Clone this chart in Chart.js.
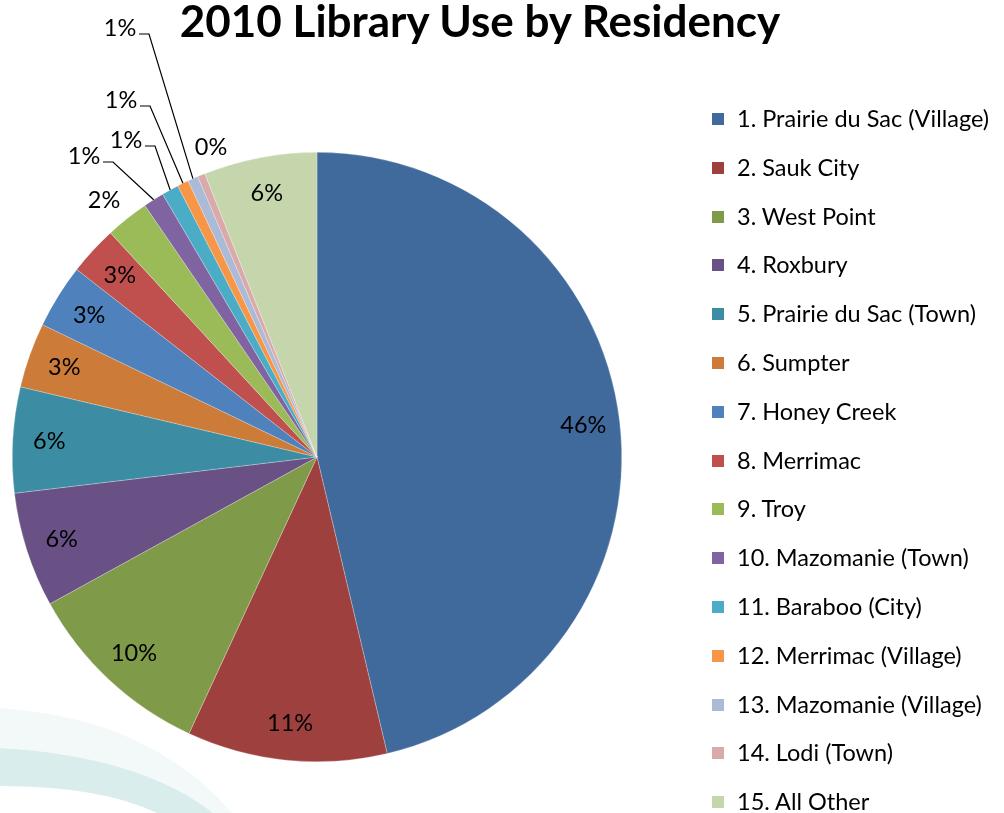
<!DOCTYPE html>
<html>
<head>
<meta charset="utf-8">
<script src="https://cdn.jsdelivr.net/npm/chart.js@4"></script>
<style>
  body { margin:0; background:#fff; font-family: Lato, sans-serif; }
  #wrap { position:relative; width:1004px; height:813px; overflow:hidden; }
  #bg { position:absolute; left:0; top:0; }
  #title { position:absolute; left:0; top:-6px; width:960px; text-align:center; font-weight:bold; font-size:44px; color:#000; }
  #pie { position:absolute; left:0; top:0; }
  #legend { position:absolute; left:712px; top:103px; margin:0; padding:0; list-style:none; }
  #legend li { height:48.8px; font-size:23.5px; line-height:30px; white-space:nowrap; }
  #legend span { display:inline-block; width:12px; height:12px; margin-right:13px; vertical-align:2px; }
</style>
</head>
<body>
<div id="wrap">
  <svg id="bg" width="1004" height="813">
    <path d="M0,708 Q150,718 232,813 L213,813 Q140,756 0,748 Z" fill="#F3F9F9"/>
    <path d="M0,748 Q140,756 213,813 L157,813 Q100,786 0,786 Z" fill="#DAEDED"/>
  </svg>
  <canvas id="pie" width="1004" height="813"></canvas>
  <div id="title">2010 Library Use by Residency</div>
  <ul id="legend"></ul>
</div>
<script>
// datos (porcentaje)
const labels = ['1. Prairie du Sac (Village)','2. Sauk City','3. West Point','4. Roxbury',
  '5. Prairie du Sac (Town)','6. Sumpter','7. Honey Creek','8. Merrimac','9. Troy',
  '10. Mazomanie (Town)','11. Baraboo (City)','12. Merrimac (Village)','13. Mazomanie (Village)',
  '14. Lodi (Town)','15. All Other'];
const values = [46.3, 10.6, 10.1, 6.1, 5.6, 3.45, 3.4, 2.6, 2.3, 1.1, 0.9, 0.6, 0.55, 0.4, 6.0];
const colors = ['#416A9C','#9E413E','#7F9A48','#695185','#3C8DA3','#CC7B38','#4F81BD','#C0504D',
  '#9BBB59','#8064A2','#4BACC6','#F79646','#AABAD7','#D9AAA9','#C6D6AC'];

// etiquetas fuera del pastel: [x, y, con línea guía]
const outside = {
  8:  [104, 200, false],
  9:  [84, 156, true],
  10: [126, 140, true],
  11: [121, 100, true],
  12: [120, 28, true],
  13: [211, 147, false]
};

// legend
const legendEl = document.getElementById('legend');
labels.forEach((l, i) => {
  const li = document.createElement('li');
  li.innerHTML = '<span style="background:' + colors[i] + '"></span>' + l;
  legendEl.appendChild(li);
});

const total = values.reduce((a, b) => a + b, 0);

const labelPlugin = {
  id: 'sliceLabels',
  afterDatasetsDraw(chart) {
    const ctx = chart.ctx;
    const arcs = chart.getDatasetMeta(0).data;
    ctx.save();
    ctx.font = '23.5px Lato, sans-serif';
    ctx.fillStyle = '#000';
    ctx.textAlign = 'center';
    ctx.textBaseline = 'middle';
    arcs.forEach((arc, i) => {
      const p = arc.getProps(['x','y','startAngle','endAngle','outerRadius'], true);
      const mid = (p.startAngle + p.endAngle) / 2;
      const txt = Math.round(values[i] / total * 100) + '%';
      const o = outside[i];
      if (o) {
        ctx.fillText(txt, o[0], o[1]);
        if (o[2]) {
          const ex = p.x + Math.cos(mid) * p.outerRadius;
          const ey = p.y + Math.sin(mid) * p.outerRadius;
          const sx = o[0] + 19, sy = o[1] + 6;
          ctx.strokeStyle = '#000';
          ctx.lineWidth = 1.2;
          ctx.beginPath();
          ctx.moveTo(sx, sy);
          ctx.lineTo(sx + 10, sy);
          ctx.lineTo(ex, ey);
          ctx.stroke();
        }
      } else {
        const r = p.outerRadius * 0.88;
        ctx.fillText(txt, p.x + Math.cos(mid) * r, p.y + Math.sin(mid) * r);
      }
    });
    ctx.restore();
  }
};

new Chart(document.getElementById('pie'), {
  type: 'pie',
  data: {
    labels: labels,
    datasets: [{ data: values, backgroundColor: colors, borderColor: 'rgba(255,255,255,0.5)', borderWidth: 0.5 }]
  },
  options: {
    responsive: false,
    animation: false,
    layout: { padding: { left: 12, right: 382, top: 152, bottom: 51 } },
    plugins: { legend: { display: false }, tooltip: { enabled: false } }
  },
  plugins: [labelPlugin]
});
</script>
</body>
</html>
